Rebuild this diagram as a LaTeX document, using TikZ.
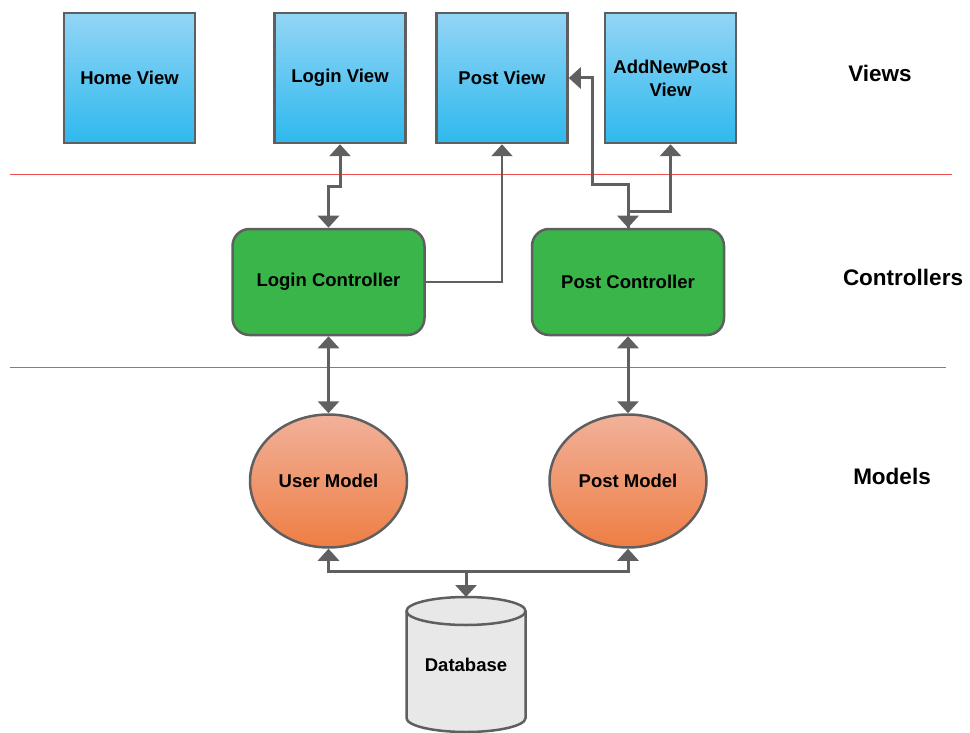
\documentclass[tikz,border=0pt]{standalone}
\usepackage{fontspec}
\setmainfont{Liberation Sans}
\usetikzlibrary{shapes.geometric,arrows.meta,calc}
\definecolor{edgegray}{HTML}{5F5F5F}
\definecolor{conngray}{HTML}{606060}
\definecolor{viewtop}{HTML}{93D5F5}
\definecolor{viewbot}{HTML}{2EB9EE}
\definecolor{ctrlgreen}{HTML}{39B54A}
\definecolor{modtop}{HTML}{F1B19A}
\definecolor{modbot}{HTML}{EF7E44}
\definecolor{dbfill}{HTML}{E8E8E8}
\definecolor{sepred}{HTML}{F05050}
\tikzset{
  boxtext/.style={font=\bfseries\fontsize{18.5}{26}\selectfont, text=black, align=center},
  viewbox/.style={boxtext, rectangle, draw=edgegray, line width=2.5pt, top color=viewtop, bottom color=viewbot, minimum width=131pt, minimum height=130pt, inner sep=0pt},
  ctrlbox/.style={boxtext, rectangle, rounded corners=17pt, draw=edgegray, line width=2.5pt, fill=ctrlgreen, minimum width=192pt, minimum height=106pt, inner sep=0pt},
  modelbox/.style={boxtext, ellipse, draw=edgegray, line width=2.5pt, top color=modtop, bottom color=modbot, minimum width=157pt, minimum height=133pt, inner sep=0pt},
  layerlabel/.style={font=\bfseries\fontsize{22.5}{27}\selectfont, text=black},
  conn/.style={draw=conngray, line width=3pt},
  thinconn/.style={draw=conngray, line width=2pt},
  tip/.tip={Triangle[width=21pt,length=12pt]},
  redline/.style={draw=sepred, line width=1pt}
}
\begin{document}
\begin{tikzpicture}[x=1pt,y=1pt]
\useasboundingbox (0,0) rectangle (970,-733);
% separators
\draw[redline] (10,-175) -- (952,-175);
\draw[redline] (10,-367) -- (946,-367);
% views
\node[viewbox] (hv) at (129.5,-78) {Home View};
\node[viewbox] (lv) at (340,-78) {Login View};
\node[viewbox] (pv) at (502,-78) {Post View};
\node[viewbox] (av) at (670.5,-78) {AddNewPost\\[-3pt]View};
% controllers
\node[ctrlbox] (lc) at (328.5,-282) {Login Controller};
\node[ctrlbox] (pc) at (628,-282) {Post Controller};
% models
\node[modelbox] (um) at (328.5,-481) {User Model};
\node[modelbox] (pm) at (628,-481) {Post Model};
% database
\fill[dbfill] (406.5,-611) -- (406.5,-718) arc[start angle=180,end angle=360,x radius=59.5pt,y radius=14pt] -- (525.5,-611) arc[start angle=0,end angle=180,x radius=59.5pt,y radius=14pt] -- cycle;
\draw[edgegray, line width=2.5pt] (406.5,-611) -- (406.5,-718) arc[start angle=180,end angle=360,x radius=59.5pt,y radius=14pt] -- (525.5,-611) arc[start angle=0,end angle=180,x radius=59.5pt,y radius=14pt] -- cycle;
\draw[edgegray, line width=2.5pt] (406.5,-611) arc[start angle=180,end angle=360,x radius=59.5pt,y radius=14pt];
\node[boxtext] (db) at (466,-665) {Database};
\coordinate (dbtop) at (466,-597);
\coordinate (dbj) at (466,-570.5);
% layer labels
\node[layerlabel] (lviews) at (880,-73) {Views};
\node[layerlabel] (lctrl) at (903,-277) {Controllers};
\node[layerlabel] (lmod) at (892,-476) {Models};
% connectors
\draw[conn,{tip}-{tip}] (lv.south) -- ++(0,-42) -| (lc.north);
\draw[thinconn,-{tip}] (lc.east) -| (pv.south);
\draw[conn,{tip}-{tip}] (pc.north) -- ++(0,43) -- ++(-36,0) |- (pv.east);
\draw[conn,-{tip}] (pc.north) -- ++(0,16) -| (av.south);
\draw[conn,{tip}-{tip}] (lc.south) -- (um.north);
\draw[conn,{tip}-{tip}] (pc.south) -- (pm.north);
\draw[conn,{tip}-{tip}] (um.south) -- ++(0,-23) -| (pm.south);
\draw[conn,-{tip}] (dbj) -- (dbtop);
\end{tikzpicture}
\end{document}
